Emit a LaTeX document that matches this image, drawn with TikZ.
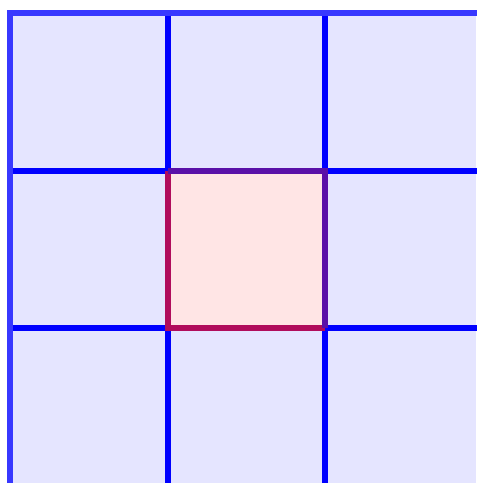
\documentclass[tikz,border=0pt]{standalone}
\usepackage{tikz}
\definecolor{cellblue}{HTML}{E5E5FF}
\definecolor{cellpink}{HTML}{FFE5E5}
\definecolor{outerline}{HTML}{3838FF}
\definecolor{edgepurple}{HTML}{5A10A8}
\definecolor{edgecrimson}{HTML}{B00C5C}
\begin{document}
\begin{tikzpicture}[
  x=1pt, y=-1pt,
  gridline/.style={draw=blue, line width=6pt},
  outer/.style={draw=outerline, line width=6pt},
  edge/.style={draw=#1, line width=6pt},
]
  \useasboundingbox (0,0) rectangle (477,483);

  % Cell fills
  \fill[cellblue] (10,13) rectangle (476,483);
  \fill[cellpink] (167.5,170.5) rectangle (325,328);

  % Inner grid lines
  \foreach \x in {167.5,325}
    \draw[gridline] (\x,13) -- (\x,483);
  \foreach \y in {170.5,328}
    \draw[gridline] (10,\y) -- (477,\y);

  % Outer lines
  \draw[outer] (10,483) -- (10,13) -- (477,13);

  % Highlighted cell
  \coordinate (nw) at (167.5,170.5);
  \coordinate (ne) at (325,170.5);
  \coordinate (se) at (325,328);
  \coordinate (sw) at (167.5,328);
  \draw[edge=edgecrimson] (nw) -- (sw) -- (se);
  \draw[edge=edgepurple] (nw) -- (ne) -- (se);
\end{tikzpicture}
\end{document}
